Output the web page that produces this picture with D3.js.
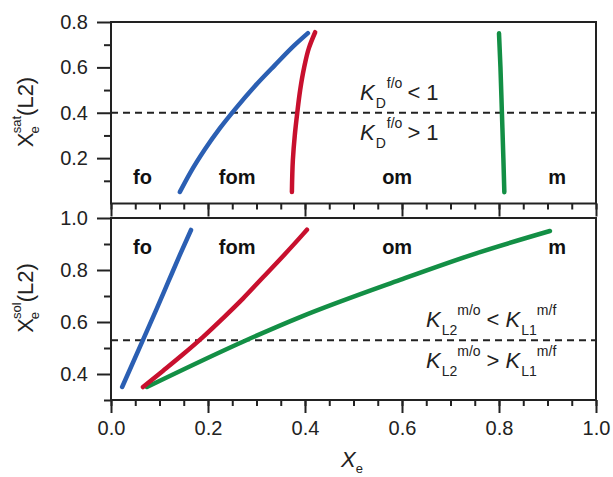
<!DOCTYPE html>
<html>
<head>
<meta charset="utf-8">
<script src="https://cdn.jsdelivr.net/npm/d3@7"></script>
<style>
  body { margin: 0; background: #fff; }
  svg { font-family: "Liberation Sans", Arial, sans-serif; }
  .axis path, .axis line { stroke: #222; stroke-width: 2; }
  .axis text { font-size: 20px; fill: #222; }
  .frame { fill: none; stroke: #222; stroke-width: 2; }
  .curve { fill: none; stroke-width: 4.5; stroke-linecap: round; stroke-linejoin: round; }
  .split { stroke: #222; stroke-width: 2; stroke-dasharray: 7, 5; }
  .region { font-size: 20px; font-weight: bold; fill: #111; }
  .note { font-size: 22px; fill: #222; }
</style>
</head>
<body>
<div id="chart"></div>
<script>
// top panel: X_e^sat(L2) vs X_e
var satBlue  = [[0.142,0.051],[0.163,0.134],[0.194,0.240],[0.225,0.333],[0.256,0.416],[0.297,0.518],[0.338,0.610],[0.379,0.699],[0.406,0.751]];
var satRed   = [[0.373,0.051],[0.375,0.192],[0.379,0.302],[0.384,0.399],[0.390,0.500],[0.398,0.597],[0.408,0.685],[0.421,0.755]];
var satGreen = [[0.811,0.050],[0.809,0.200],[0.806,0.400],[0.803,0.600],[0.800,0.750]];
// bottom panel: X_e^sol(L2) vs X_e
var solBlue  = [[0.023,0.35],[0.066,0.531],[0.093,0.646],[0.118,0.754],[0.142,0.858],[0.165,0.954]];
var solRed   = [[0.066,0.350],[0.107,0.412],[0.148,0.475],[0.190,0.543],[0.231,0.615],[0.272,0.690],[0.313,0.771],[0.355,0.854],[0.396,0.938],[0.404,0.955]];
var solGreen = [[0.074,0.35],[0.280,0.531],[0.390,0.619],[0.596,0.762],[0.761,0.869],[0.905,0.950]];

var regions = ["fo", "fom", "om", "m"];
var regionX = [0.065, 0.26, 0.59, 0.92];
var satSplit = 0.4;
var solSplit = 0.53;

var xTicks = [0, 0.2, 0.4, 0.6, 0.8, 1.0];
var xMinor = d3.range(0, 1.0001, 0.05);
var satTicks = [0.2, 0.4, 0.6, 0.8];
var satMinor = [0.1, 0.3, 0.5, 0.7];
var solTicks = [0.4, 0.6, 0.8, 1.0];
var solMinor = [0.3, 0.5, 0.7, 0.9];

var colors = { blue: "#2b5fb3", red: "#c8102e", green: "#138f45" };

var w = 613, h = 477;
var left = 111, right = 596;
var svg = d3.select("#chart").append("svg").attr("width", w).attr("height", h);

var x = d3.scaleLinear().domain([0, 1]).range([left, right]);
var ySat = d3.scaleLinear().domain([0, 0.8]).range([203.5, 22]);
var ySol = d3.scaleLinear().domain([0.3, 1.0]).range([400, 218]);

function panel(y, ticks, minor, curves, split, showX) {
  var y0 = y.range()[0], y1 = y.range()[1];
  svg.append("g").attr("class", "axis")
    .attr("transform", "translate(" + left + ",0)")
    .call(d3.axisLeft(y).tickValues(minor).tickSize(7).tickFormat(""))
    .select(".domain").remove();
  svg.append("g").attr("class", "axis")
    .attr("transform", "translate(" + left + ",0)")
    .call(d3.axisLeft(y).tickValues(ticks).tickSize(14).tickPadding(9).tickFormat(d3.format(".1f")))
    .select(".domain").remove();
  svg.append("g").attr("class", "axis")
    .attr("transform", "translate(0," + y0 + ")")
    .call(d3.axisBottom(x).tickValues(xMinor).tickSize(6).tickFormat(""))
    .select(".domain").remove();
  svg.append("g").attr("class", "axis")
    .attr("transform", "translate(0," + y0 + ")")
    .call(d3.axisBottom(x).tickValues(xTicks).tickSize(13).tickPadding(8)
      .tickFormat(showX ? d3.format(".1f") : ""))
    .select(".domain").remove();

  svg.append("rect").attr("class", "frame")
    .attr("x", left).attr("y", y1).attr("width", right - left).attr("height", y0 - y1);

  svg.append("line").attr("class", "split")
    .attr("x1", left).attr("x2", right)
    .attr("y1", y(split)).attr("y2", y(split));

  curves.forEach(function(c) {
    var line = d3.line().curve(c[2])
      .x(function(d) { return x(d[0]); })
      .y(function(d) { return y(d[1]); });
    svg.append("path").datum(c[0]).attr("class", "curve")
      .attr("stroke", c[1]).attr("d", line);
  });
}

panel(ySat, satTicks, satMinor, [
  [satGreen, colors.green, d3.curveMonotoneY],
  [satRed, colors.red, d3.curveMonotoneY],
  [satBlue, colors.blue, d3.curveMonotoneX]
], satSplit, false);
panel(ySol, solTicks, solMinor, [
  [solGreen, colors.green, d3.curveMonotoneX],
  [solRed, colors.red, d3.curveMonotoneX],
  [solBlue, colors.blue, d3.curveMonotoneX]
], solSplit, true);

// region labels
regions.forEach(function(r, i) {
  svg.append("text").attr("class", "region").attr("text-anchor", "middle")
    .attr("x", x(regionX[i])).attr("y", 184).text(r);
  svg.append("text").attr("class", "region").attr("text-anchor", "middle")
    .attr("x", x(regionX[i])).attr("y", 254).text(r);
});

// K_D^{f/o} notes
function kd(yb, sign) {
  var t = svg.append("text").attr("class", "note").attr("x", 360).attr("y", yb);
  t.append("tspan").attr("font-style", "italic").text("K");
  t.append("tspan").attr("font-size", 14).attr("dx", 1).attr("dy", 8).text("D");
  t.append("tspan").attr("font-size", 14).attr("dx", 1).attr("dy", -20).text("f/o");
  t.append("tspan").attr("dx", 5).attr("dy", 12).text(sign + " 1");
}
kd(100, "<");
kd(140, ">");

function kl(yb, sign) {
  var t = svg.append("text").attr("class", "note").attr("x", 426).attr("y", yb);
  t.append("tspan").attr("font-style", "italic").text("K");
  t.append("tspan").attr("font-size", 14).attr("dx", 1).attr("dy", 8).text("L2");
  t.append("tspan").attr("font-size", 14).attr("dx", 0).attr("dy", -20).text("m/o");
  t.append("tspan").attr("dx", 6).attr("dy", 12).text(sign + " ");
  t.append("tspan").attr("font-style", "italic").text("K");
  t.append("tspan").attr("font-size", 14).attr("dx", 1).attr("dy", 8).text("L1");
  t.append("tspan").attr("font-size", 14).attr("dx", 0).attr("dy", -20).text("m/f");
}
kl(327, "<");
kl(368, ">");

// axis titles
function yTitle(cy, sup) {
  var t = svg.append("text").attr("class", "note").attr("font-size", 22)
    .attr("text-anchor", "middle")
    .attr("transform", "translate(33," + cy + ") rotate(-90)");
  t.append("tspan").text("X");
  t.append("tspan").attr("font-size", 13).attr("dx", -1).attr("dy", 6).text("e");
  t.append("tspan").attr("font-size", 13).attr("dx", -7).attr("dy", -18).text(sup);
  t.append("tspan").attr("dy", 12).text("(L2)");
}
yTitle(112, "sat");
yTitle(298, "sol");

var xt = svg.append("text").attr("class", "note").attr("text-anchor", "middle")
  .attr("x", 352).attr("y", 467);
xt.append("tspan").attr("font-style", "italic").text("X");
xt.append("tspan").attr("font-size", 13).attr("dy", 6).text("e");
</script>
</body>
</html>
